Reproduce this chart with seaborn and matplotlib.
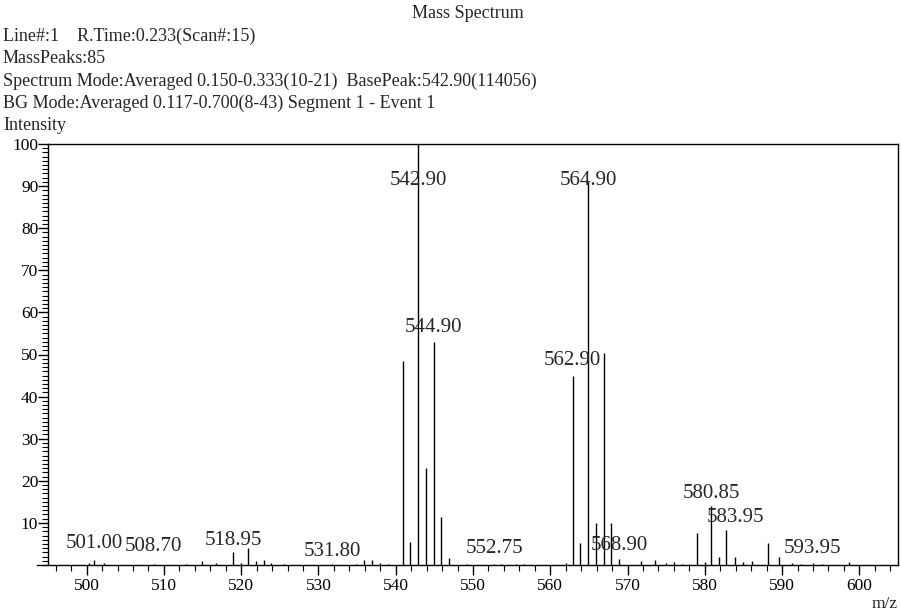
import numpy as np
import matplotlib
matplotlib.use("Agg")
import matplotlib.pyplot as plt
import matplotlib.ticker as mticker
import seaborn as sns

# ── Data ─────────────────────────────────────────────────────
mz = [500.3, 501.0, 502.3, 508.7, 512.9, 514.9, 516.8, 518.9, 520.0, 520.9,
      521.95, 522.95, 523.9, 525.5, 531.8, 534.9, 535.95, 536.95, 538.0, 538.95,
      541.0, 541.9, 542.9, 543.9, 544.9, 545.9, 546.9, 549.2, 552.75, 553.6,
      555.6, 556.6, 562.0, 562.9, 563.9, 564.9, 565.9, 566.9, 567.9, 568.9,
      571.7, 573.6, 575.0, 576.0, 577.1, 578.0, 579.0, 580.0, 580.85, 581.9,
      582.7, 583.9, 584.9, 586.1, 588.2, 589.6, 591.3, 592.4, 594.0, 595.1,
      598.7]
intensity = [0.4, 1.3, 0.5, 0.3, 0.3, 1.0, 0.4, 3.1, 0.5, 4.0,
             0.9, 1.2, 0.4, 0.2, 0.2, 0.3, 1.3, 1.3, 0.5, 0.3,
             48.5, 5.5, 100.0, 23.0, 53.0, 11.5, 1.6, 0.2, 0.3, 0.3,
             0.2, 0.3, 0.4, 45.0, 5.2, 91.0, 10.0, 50.3, 10.0, 1.4,
             0.9, 1.1, 0.5, 0.6, 0.3, 0.3, 7.6, 0.6, 14.0, 1.9,
             8.4, 2.0, 0.7, 0.9, 5.2, 1.9, 0.5, 0.3, 0.4, 0.3,
             0.6]

label_mz = [501.00, 508.70, 518.95, 531.80, 542.90, 544.90, 552.75,
            562.90, 564.90, 568.90, 580.85, 583.95, 593.95]
# vertical placement of the peak labels (layout only)
label_y = [5.0, 4.5, 5.9, 3.1, 91.4, 56.3, 4.0,
           48.5, 91.4, 4.75, 17.1, 11.4, 4.0]

header = [
    "Line#:1    R.Time:0.233(Scan#:15)",
    "MassPeaks:85",
    "Spectrum Mode:Averaged 0.150-0.333(10-21)  BasePeak:542.90(114056)",
    "BG Mode:Averaged 0.117-0.700(8-43) Segment 1 - Event 1",
    "Intensity",
]

# ── Style ────────────────────────────────────────────────────
sns.set_theme(style="ticks")
plt.rcParams.update({
    'font.family': ['Liberation Serif', 'DejaVu Serif'],
    'xtick.direction': 'out',
    'ytick.direction': 'out',
    'axes.linewidth': 1.0,
    'axes.edgecolor': 'black',
    'xtick.color': 'black',
    'ytick.color': 'black',
})

W, H = 901, 615
fig = plt.figure(figsize=(W / 100, H / 100), dpi=100)
ax = fig.add_axes([48 / W, 1 - 565 / H, 850 / W, 421 / H])

ax.vlines(mz, 0, intensity, color='black', lw=1.0)

ax.set_xlim(495, 605)
ax.set_ylim(0, 100)

ax.xaxis.set_major_locator(mticker.MultipleLocator(10))
ax.xaxis.set_minor_locator(mticker.MultipleLocator(2))
ax.yaxis.set_major_locator(mticker.FixedLocator(np.arange(10, 101, 10)))
ax.yaxis.set_minor_locator(mticker.MultipleLocator(1))
ax.tick_params(axis='both', which='major', length=7, width=1.0,
               labelsize=12.5, pad=2)
ax.tick_params(axis='both', which='minor', length=4, width=0.8)
ax.tick_params(axis='y', which='major', pad=0)

for s in ax.spines.values():
    s.set_color('black')
ax.spines['bottom'].set_bounds(493.6, 605)

for x, y in zip(label_mz, label_y):
    ax.text(x, y, f"{x:.2f}", ha='center', va='center', fontsize=15)

# ── Header text ──────────────────────────────────────────────
fig.text(468 / W, 1 - 13 / H, "Mass Spectrum", ha='center', va='center',
         fontsize=13)
for i, line in enumerate(header):
    fig.text(3 / W, 1 - (36 + i * 22.5) / H, line, ha='left', va='center',
             fontsize=13)

fig.text(885 / W, 1 - 604 / H, "m/z", ha='center', va='center', fontsize=12.5)

fig.savefig("out.png", dpi=100, facecolor='white')
